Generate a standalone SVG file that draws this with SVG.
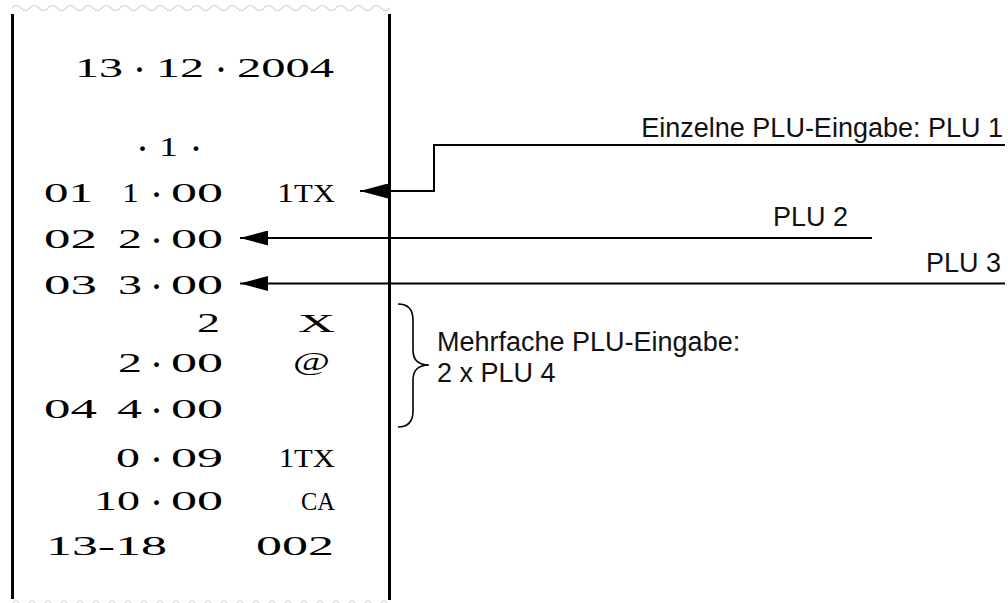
<svg xmlns="http://www.w3.org/2000/svg" width="1008" height="603" viewBox="0 0 1008 603">
<style>
.r{font-family:"Liberation Serif","Times New Roman",serif;font-size:28px;fill:#000}
.s{font-family:"Liberation Serif","Times New Roman",serif;font-size:25px;fill:#000}
.d{font-family:"Liberation Serif","Times New Roman",serif;font-size:30px;font-weight:bold;fill:#000;text-anchor:middle}
.l{font-family:"Liberation Sans",Arial,sans-serif;font-size:27px;fill:#111}
.edge{stroke:#000;stroke-width:3;fill:none}
.wave{stroke:#dcdcdc;stroke-width:1.6;fill:none}
.con{stroke:#000;stroke-width:2;fill:none}
</style>
<defs>
<marker id="ah" viewBox="0 0 28 15" refX="28" refY="7.5" markerWidth="28" markerHeight="15" markerUnits="userSpaceOnUse" orient="auto">
<path d="M0,0 L28,7.5 L0,15 z" fill="#000"/>
</marker>
</defs>
<g id="receipt">
<path class="wave" d="M12,8 q4.5,-5 9,0 t9,0 t9,0 t9,0 t9,0 t9,0 t9,0 t9,0 t9,0 t9,0 t9,0 t9,0 t9,0 t9,0 t9,0 t9,0 t9,0 t9,0 t9,0 t9,0 t9,0 t9,0 t9,0 t9,0 t9,0 t9,0 t9,0 t9,0 t9,0 t9,0 t9,0 t9,0 t9,0 t9,0 t9,0 t9,0 t9,0 t9,0 t9,0 t9,0 t9,0 t9,0"/>
<path class="wave" d="M12,604 q4,-6 8,0 t8,0 t8,0 t8,0 t8,0 t8,0 t8,0 t8,0 t8,0 t8,0 t8,0 t8,0 t8,0 t8,0 t8,0 t8,0 t8,0 t8,0 t8,0 t8,0 t8,0 t8,0 t8,0 t8,0 t8,0 t8,0 t8,0 t8,0 t8,0 t8,0 t8,0 t8,0 t8,0 t8,0 t8,0 t8,0 t8,0 t8,0 t8,0 t8,0 t8,0 t8,0 t8,0 t8,0 t8,0 t8,0 t8,0"/>
<line class="edge" x1="12.5" y1="14" x2="12.5" y2="599"/>
<line class="edge" x1="389.5" y1="14" x2="389.5" y2="600"/>
<text class="r" x="75" y="77" textLength="48" lengthAdjust="spacingAndGlyphs">13</text>
<text class="d" x="139.5" y="79">·</text>
<text class="r" x="156" y="77" textLength="48" lengthAdjust="spacingAndGlyphs">12</text>
<text class="d" x="221" y="79">·</text>
<text class="r" x="237" y="77" textLength="97" lengthAdjust="spacingAndGlyphs">2004</text>
<text class="d" x="142.5" y="158">·</text>
<text class="r" x="159" y="156" textLength="19" lengthAdjust="spacingAndGlyphs">1</text>
<text class="d" x="196" y="158">·</text>
<text class="r" x="44" y="202" textLength="49" lengthAdjust="spacingAndGlyphs">01</text>
<text class="r" x="122" y="202" textLength="17" lengthAdjust="spacingAndGlyphs">1</text>
<text class="d" x="156.5" y="204">·</text>
<text class="r" x="171" y="202" textLength="52" lengthAdjust="spacingAndGlyphs">00</text>
<text class="r" x="277" y="202" textLength="17" lengthAdjust="spacingAndGlyphs">1</text>
<text class="s" x="294" y="202" textLength="41" lengthAdjust="spacingAndGlyphs">TX</text>
<text class="r" x="44" y="248" textLength="53" lengthAdjust="spacingAndGlyphs">02</text>
<text class="r" x="118" y="248" textLength="24" lengthAdjust="spacingAndGlyphs">2</text>
<text class="d" x="156.5" y="250">·</text>
<text class="r" x="171" y="248" textLength="52" lengthAdjust="spacingAndGlyphs">00</text>
<text class="r" x="44" y="294" textLength="53" lengthAdjust="spacingAndGlyphs">03</text>
<text class="r" x="118" y="294" textLength="24" lengthAdjust="spacingAndGlyphs">3</text>
<text class="d" x="156.5" y="296">·</text>
<text class="r" x="171" y="294" textLength="52" lengthAdjust="spacingAndGlyphs">00</text>
<text class="r" x="197" y="332" textLength="23" lengthAdjust="spacingAndGlyphs">2</text>
<text class="s" x="298" y="332" textLength="37" lengthAdjust="spacingAndGlyphs">X</text>
<text class="r" x="118" y="372" textLength="24" lengthAdjust="spacingAndGlyphs">2</text>
<text class="d" x="156.5" y="374">·</text>
<text class="r" x="171" y="372" textLength="52" lengthAdjust="spacingAndGlyphs">00</text>
<text class="s" x="293" y="370" textLength="37" lengthAdjust="spacingAndGlyphs">@</text>
<text class="r" x="44" y="418" textLength="53" lengthAdjust="spacingAndGlyphs">04</text>
<text class="r" x="117" y="418" textLength="25" lengthAdjust="spacingAndGlyphs">4</text>
<text class="d" x="156.5" y="420">·</text>
<text class="r" x="171" y="418" textLength="52" lengthAdjust="spacingAndGlyphs">00</text>
<text class="r" x="116" y="467" textLength="24" lengthAdjust="spacingAndGlyphs">0</text>
<text class="d" x="156.5" y="469">·</text>
<text class="r" x="171" y="467" textLength="52" lengthAdjust="spacingAndGlyphs">09</text>
<text class="r" x="279" y="467" textLength="15" lengthAdjust="spacingAndGlyphs">1</text>
<text class="s" x="294" y="467" textLength="41" lengthAdjust="spacingAndGlyphs">TX</text>
<text class="r" x="94" y="510" textLength="46" lengthAdjust="spacingAndGlyphs">10</text>
<text class="d" x="156.5" y="512">·</text>
<text class="r" x="171" y="510" textLength="52" lengthAdjust="spacingAndGlyphs">00</text>
<text class="s" x="301" y="510" textLength="34" lengthAdjust="spacingAndGlyphs">CA</text>
<text class="r" x="46" y="555" textLength="121" lengthAdjust="spacingAndGlyphs">13-18</text>
<text class="r" x="256" y="555" textLength="78" lengthAdjust="spacingAndGlyphs">002</text>
</g>
<g id="label-plu1"><text class="l" x="1003" y="137" text-anchor="end">Einzelne PLU-Eingabe: PLU 1</text></g>
<g id="label-plu2"><text class="l" x="848" y="226" text-anchor="end">PLU 2</text></g>
<g id="label-plu3"><text class="l" x="1001" y="272" text-anchor="end">PLU 3</text></g>
<g id="label-multi">
<path d="M398,304 Q413,304 413,320 L413,350 Q413,365 429,365 Q413,365 413,380 L413,411 Q413,427 398,427" fill="none" stroke="#000" stroke-width="1.6"/>
<text class="l" x="437" y="351">Mehrfache PLU-Eingabe:</text>
<text class="l" x="437" y="382">2 x PLU 4</text>
</g>
<g id="connectors">
<path class="con" d="M1005,145 H434 V191 H360" marker-end="url(#ah)"/>
<path class="con" d="M872,238 H240" marker-end="url(#ah)"/>
<path class="con" d="M1005,283.5 H240" marker-end="url(#ah)"/>
</g>
</svg>
